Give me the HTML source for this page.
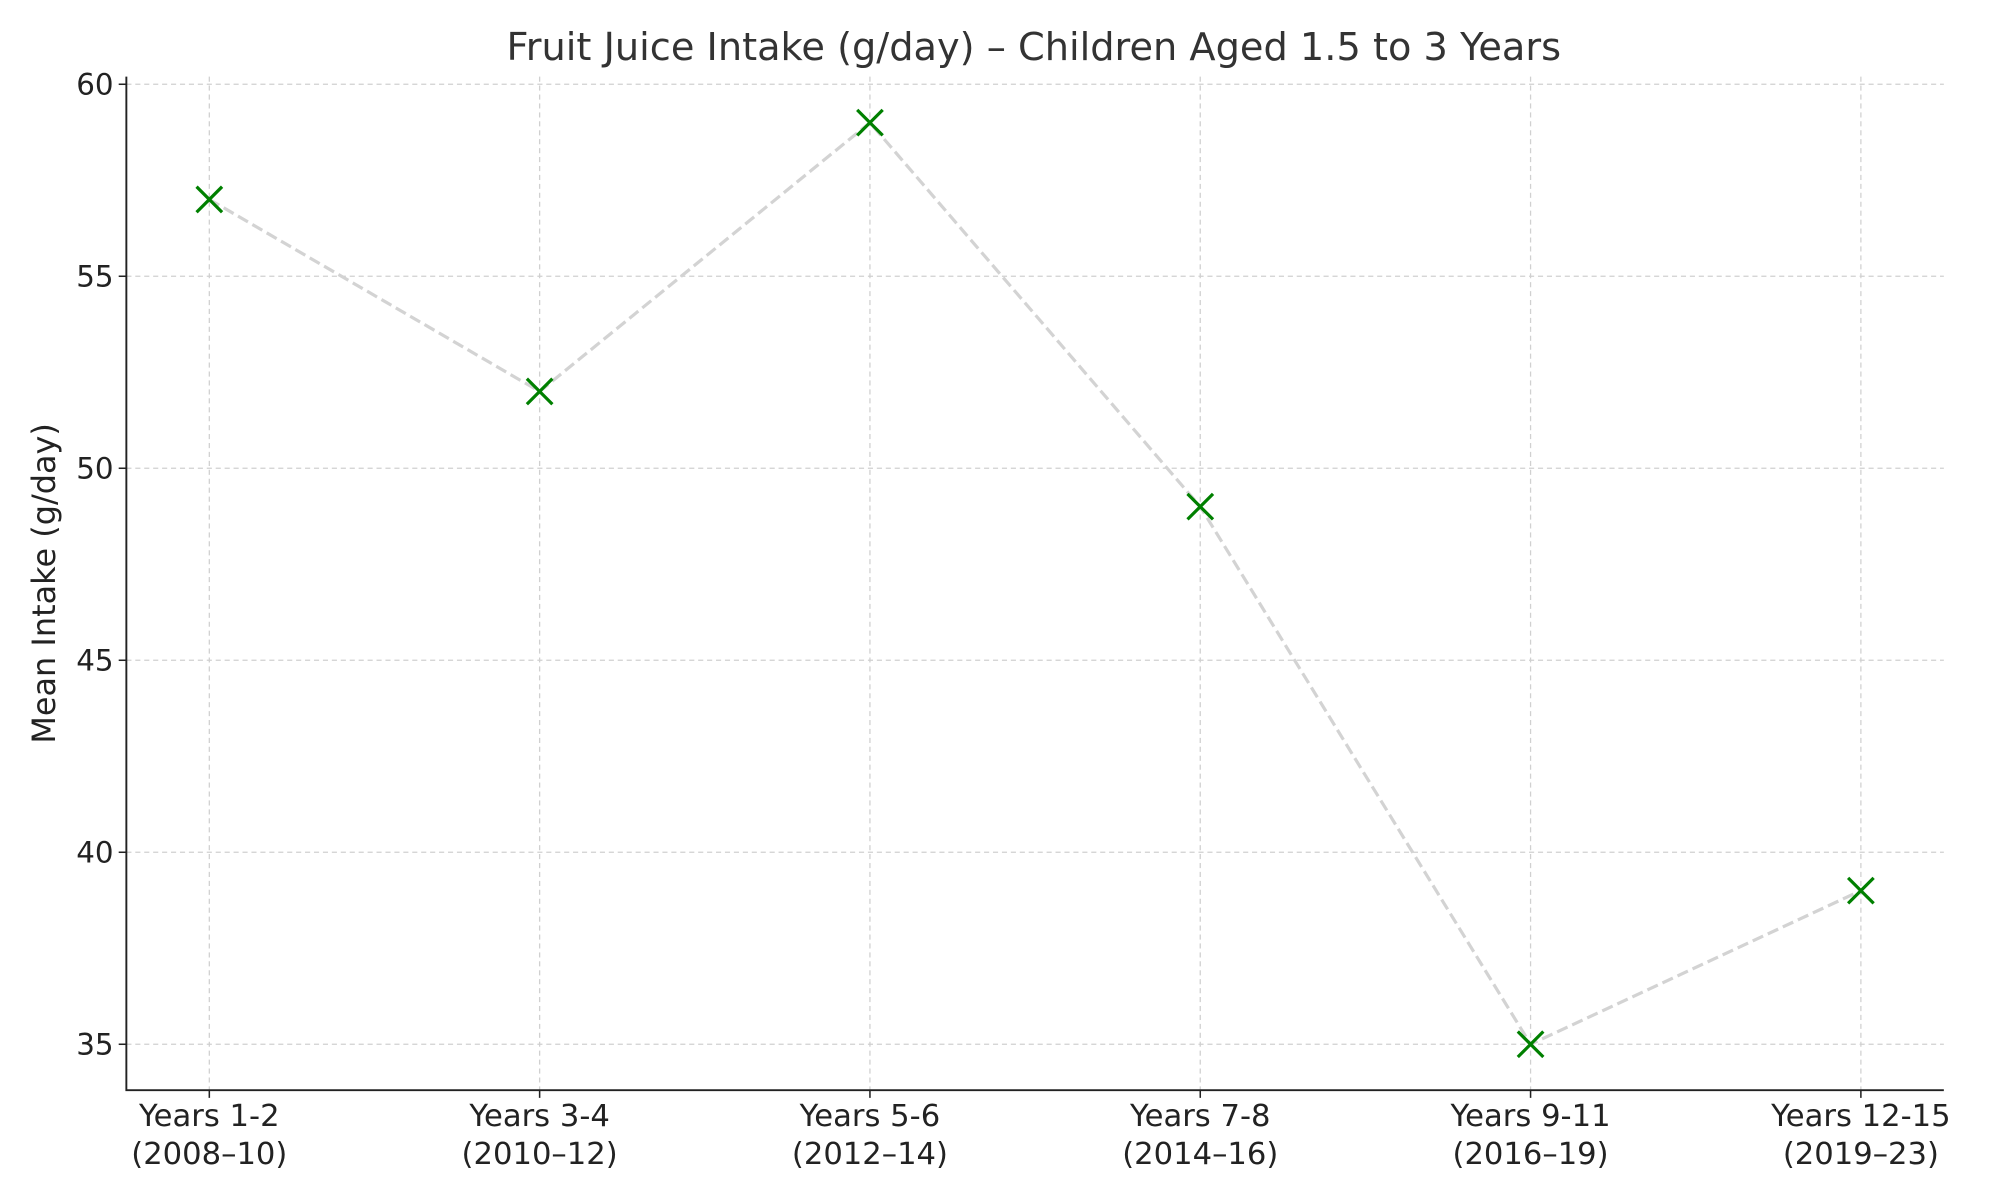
<!DOCTYPE html>
<html><head><meta charset="utf-8"><style>
html,body{margin:0;padding:0;background:#fff;}
svg{display:block;font-family:"DejaVu Sans","Liberation Sans",sans-serif;}
</style></head><body>
<svg id="chart" width="2000" height="1200" viewBox="0 0 1567 940" preserveAspectRatio="none" xmlns="http://www.w3.org/2000/svg">
<rect x="0" y="0" width="1567" height="940" fill="#fff"/>
<text x="810" y="47" text-anchor="middle" font-size="30" fill="#333">Fruit Juice Intake (g/day) – Children Aged 1.5 to 3 Years</text>
<text transform="translate(43,457) rotate(-90)" text-anchor="middle" font-size="25" fill="#222">Mean Intake (g/day)</text>
<g id="grid"></g>
<g id="axes"></g>
<g id="series"></g>
</svg>
<script>
const categories1 = ["Years 1-2","Years 3-4","Years 5-6","Years 7-8","Years 9-11","Years 12-15"];
const categories2 = ["(2008–10)","(2010–12)","(2012–14)","(2014–16)","(2016–19)","(2019–23)"];
const values = [57,52,59,49,35,39];
const yTicks = [35,40,45,50,55,60];
const NS="http://www.w3.org/2000/svg";
const L=99,R=1523,T=60,B=854;
function xs(i){return 164+i*(1458-164)/(categories1.length-1);}
function ys(v){return 818-(v-35)*(818-66)/25;}
function mk(tag,attrs,parent){const e=document.createElementNS(NS,tag);for(const k in attrs)e.setAttribute(k,attrs[k]);parent.appendChild(e);return e;}
const grid=document.getElementById('grid'),axes=document.getElementById('axes'),series=document.getElementById('series');
yTicks.forEach(v=>{
 const g=mk('line',{x1:L,x2:R,y1:ys(v),y2:ys(v),stroke:'#d0d0d0','stroke-width':1,'stroke-dasharray':'4,3'},grid);
 
 
 const t=mk('line',{x1:L-6,x2:L,y1:ys(v),y2:ys(v),stroke:'#222','stroke-width':1.2},axes);
 
 
 const lb=mk('text',{x:L-10,y:ys(v)+8,'text-anchor':'end','font-size':23,fill:'#222'},axes);
 lb.textContent=v;
 
 
});
categories1.forEach((c,i)=>{
 const g=mk('line',{x1:xs(i),x2:xs(i),y1:T,y2:B,stroke:'#d0d0d0','stroke-width':1,'stroke-dasharray':'4,3'},grid);
 
 
 const t=mk('line',{x1:xs(i),x2:xs(i),y1:B,y2:B+6,stroke:'#222','stroke-width':1.2},axes);
 
 
 const lb=mk('text',{x:xs(i),y:B+28,'text-anchor':'middle','font-size':24,fill:'#222'},axes);
 
 
 const s1=mk('tspan',{x:xs(i)},lb);s1.textContent=c;
 const s2=mk('tspan',{x:xs(i),dy:30},lb);s2.textContent=categories2[i];
});
const ax=mk('path',{d:`M${L},${T} L${L},${B} L${R},${B}`,fill:'none',stroke:'#222','stroke-width':1.5},axes);


const pl=mk('polyline',{points:values.map((v,i)=>xs(i)+','+ys(v)).join(' '),fill:'none',stroke:'#d3d3d3','stroke-width':2.5,'stroke-dasharray':'9,4'},series);


values.forEach((v,i)=>{
 const x=xs(i),y=ys(v),s=10;
 const m=mk('path',{d:`M${x-s},${y-s}L${x+s},${y+s}M${x-s},${y+s}L${x+s},${y-s}`,stroke:'#008000','stroke-width':2.5,fill:'none'},series);
 
 
});
</script>
</body></html>
